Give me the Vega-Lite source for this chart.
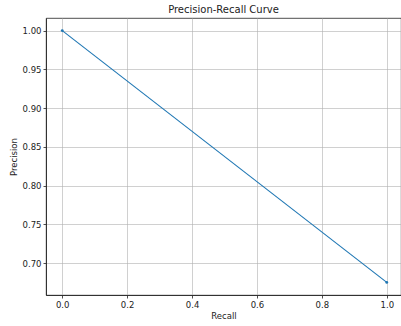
{
  "$schema": "https://vega.github.io/schema/vega-lite/v6.json",
  "autosize": {"type": "none"},
  "padding": {"left": 46, "top": 18, "right": 0, "bottom": 31},
  "width": 355,
  "height": 277,
  "background": "white",
  "config": {
    "font": "DejaVu Sans",
    "view": {"stroke": "#222", "strokeWidth": 0.8},
    "axis": {
      "labelFont": "DejaVu Sans",
      "titleFont": "DejaVu Sans",
      "labelFontSize": 8.5,
      "titleFontSize": 8.5,
      "titleFontWeight": "normal",
      "labelColor": "#222",
      "titleColor": "#222",
      "domainColor": "#222",
      "domainWidth": 0.8,
      "tickColor": "#222",
      "tickWidth": 0.8,
      "tickSize": 3,
      "labelPadding": 2,
      "gridColor": "#b0b0b0",
      "gridWidth": 0.6
    }
  },
  "title": {
    "text": "Precision-Recall Curve",
    "font": "DejaVu Sans",
    "fontSize": 10,
    "fontWeight": "normal",
    "color": "#222",
    "offset": 3
  },
  "data": {
    "values": [
      {"recall": 0.0, "precision": 1.0},
      {"recall": 1.0, "precision": 0.675}
    ]
  },
  "mark": {"type": "line", "color": "#1f77b4", "strokeWidth": 1.1, "point": {"filled": true, "size": 8, "color": "#1f77b4"}, "clip": true},
  "encoding": {
    "x": {
      "field": "recall",
      "type": "quantitative",
      "title": "Recall",
      "scale": {"domain": [-0.05, 1.0438], "nice": false, "zero": false},
      "axis": {"values": [0, 0.2, 0.4, 0.6, 0.8, 1.0], "format": ".1f", "titlePadding": 3}
    },
    "y": {
      "field": "precision",
      "type": "quantitative",
      "title": "Precision",
      "scale": {"domain": [0.65875, 1.01625], "nice": false, "zero": false},
      "axis": {"values": [0.7, 0.75, 0.8, 0.85, 0.9, 0.95, 1.0], "format": ".2f", "titlePadding": 4}
    }
  }
}
